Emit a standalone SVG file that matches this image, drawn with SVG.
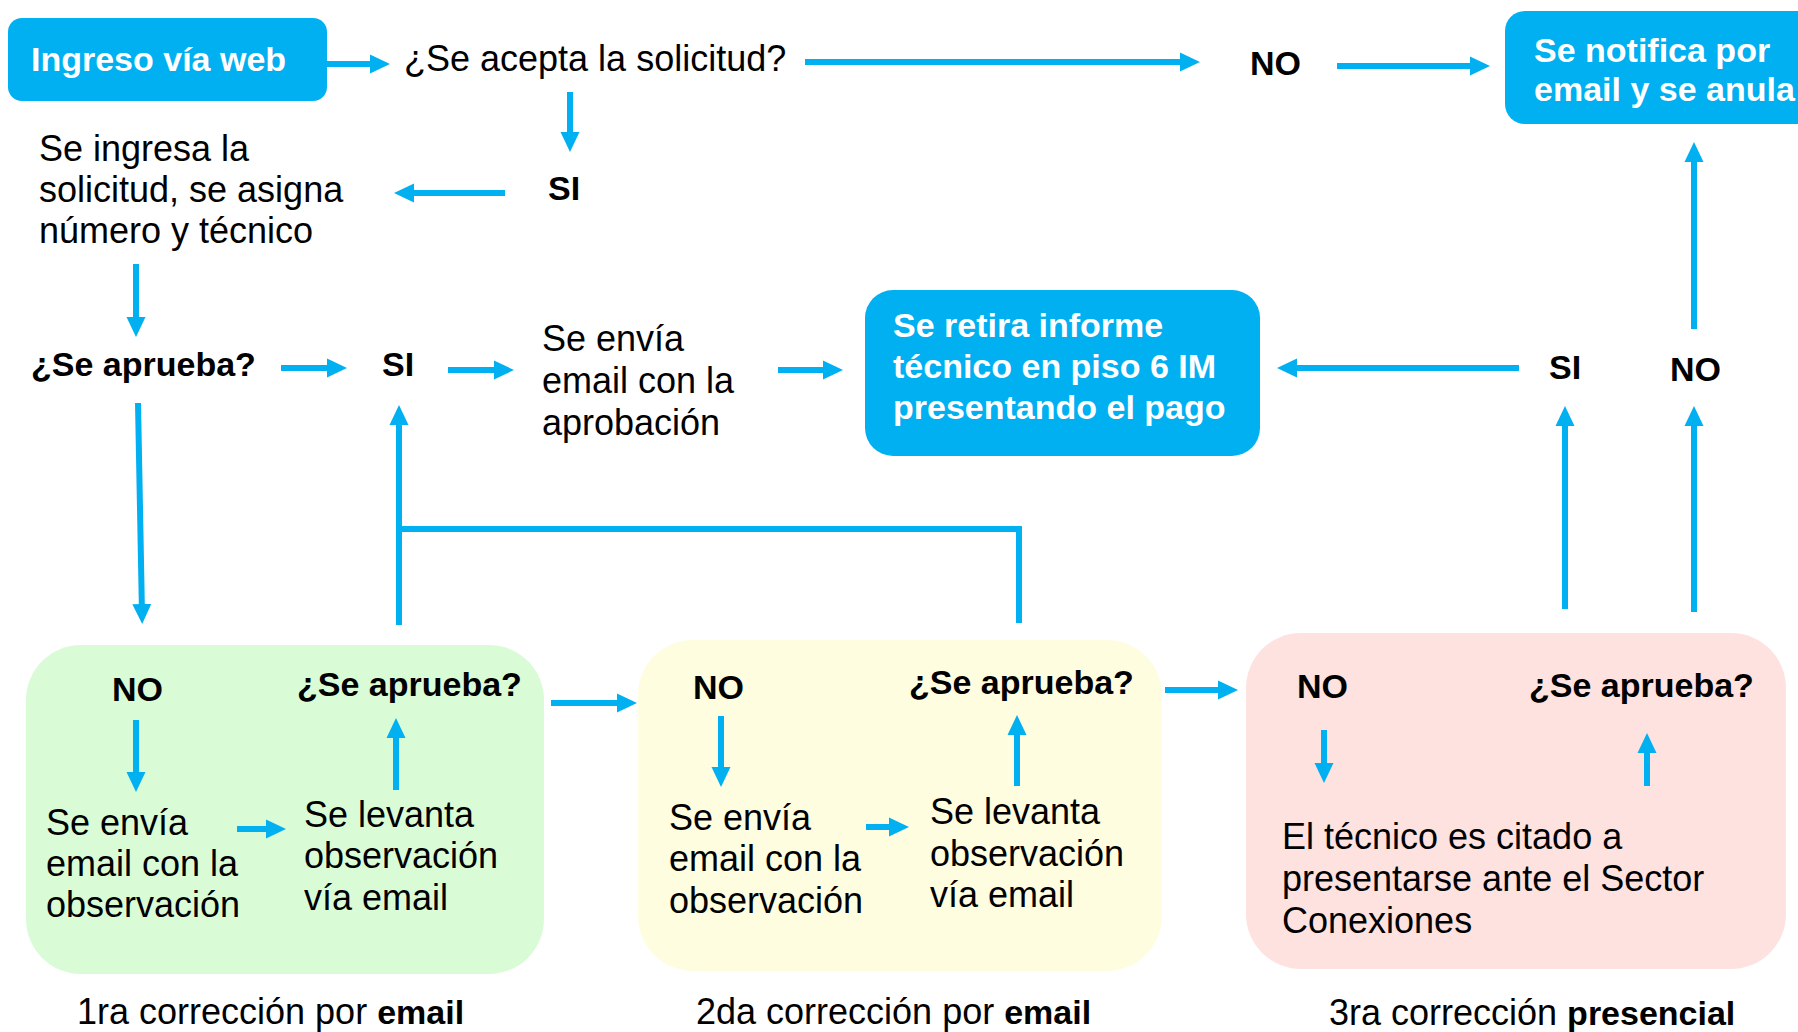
<svg xmlns="http://www.w3.org/2000/svg" width="1798" height="1032" viewBox="0 0 1798 1032">
<style>
text{font-family:"Liberation Sans",Arial,sans-serif;font-size:36px;fill:#000}
.b{font-weight:bold;font-size:34px}
.w{fill:#fff;font-weight:bold;font-size:34px}
.box{fill:#00B0F0}
.c line,.c polyline{stroke:#00B0F0;stroke-width:6;fill:none}
.c line{marker-end:url(#ah)}
</style>
<defs>
<marker id="ah" viewBox="0 0 20 20" markerWidth="20" markerHeight="20" refX="10" refY="10" orient="auto" markerUnits="userSpaceOnUse">
<path d="M0,0.5 L20,10 L0,19.5 z" fill="#00B0F0"/>
</marker>
</defs>
<rect width="1798" height="1032" fill="#fff"/>

<g id="group-green"><rect x="26" y="645" width="518" height="329" rx="55" fill="#D9FCD7"/></g>
<g id="group-yellow"><rect x="638" y="640" width="524" height="331" rx="55" fill="#FEFDE0"/></g>
<g id="group-pink"><rect x="1246" y="633" width="540" height="336" rx="55" fill="#FDE2E0"/></g>

<g id="n-ingreso"><rect class="box" x="8" y="18" width="319" height="83" rx="14"/><text class="w" x="31" y="71">Ingreso vía web</text></g>
<g id="n-acepta"><text x="404" y="71">¿Se acepta la solicitud?</text></g>
<g id="n-no-top"><text class="b" x="1250" y="75">NO</text></g>
<g id="n-notifica"><rect class="box" x="1505" y="11" width="330" height="113" rx="20"/><text class="w" x="1534" y="62">Se notifica por</text><text class="w" x="1534" y="101">email y se anula</text></g>
<g id="n-si-top"><text class="b" x="548" y="200">SI</text></g>
<g id="n-ingresa"><text x="39" y="161">Se ingresa la</text><text x="39" y="202">solicitud, se asigna</text><text x="39" y="243">número y técnico</text></g>
<g id="n-aprueba"><text class="b" x="31" y="376">¿Se aprueba?</text></g>
<g id="n-si-mid"><text class="b" x="382" y="376">SI</text></g>
<g id="n-envia-aprob"><text x="542" y="351">Se envía</text><text x="542" y="393">email con la</text><text x="542" y="435">aprobación</text></g>
<g id="n-retira"><rect class="box" x="865" y="290" width="395" height="166" rx="28"/><text class="w" x="893" y="337">Se retira informe</text><text class="w" x="893" y="378">técnico en piso 6 IM</text><text class="w" x="893" y="419">presentando el pago</text></g>
<g id="n-si-right"><text class="b" x="1549" y="379">SI</text></g>
<g id="n-no-right"><text class="b" x="1670" y="381">NO</text></g>

<g id="n-g-no"><text class="b" x="112" y="701">NO</text></g>
<g id="n-g-envia"><text x="46" y="835">Se envía</text><text x="46" y="876">email con la</text><text x="46" y="917">observación</text></g>
<g id="n-g-levanta"><text x="304" y="827">Se levanta</text><text x="304" y="868">observación</text><text x="304" y="910">vía email</text></g>
<g id="n-g-aprueba"><text class="b" x="297" y="696">¿Se aprueba?</text></g>

<g id="n-y-no"><text class="b" x="693" y="699">NO</text></g>
<g id="n-y-envia"><text x="669" y="830">Se envía</text><text x="669" y="871">email con la</text><text x="669" y="913">observación</text></g>
<g id="n-y-levanta"><text x="930" y="824">Se levanta</text><text x="930" y="866">observación</text><text x="930" y="907">vía email</text></g>
<g id="n-y-aprueba"><text class="b" x="909" y="694">¿Se aprueba?</text></g>

<g id="n-p-no"><text class="b" x="1297" y="698">NO</text></g>
<g id="n-p-citado"><text x="1282" y="849">El técnico es citado a</text><text x="1282" y="891">presentarse ante el Sector</text><text x="1282" y="933">Conexiones</text></g>
<g id="n-p-aprueba"><text class="b" x="1529" y="697">¿Se aprueba?</text></g>

<g id="cap1"><text x="77" y="1024">1ra corrección por <tspan font-weight="bold" font-size="34">email</tspan></text></g>
<g id="cap2"><text x="696" y="1024">2da corrección por <tspan font-weight="bold" font-size="34">email</tspan></text></g>
<g id="cap3"><text x="1329" y="1025">3ra corrección <tspan font-weight="bold" font-size="34">presencial</tspan></text></g>

<g id="connectors" class="c">
<line x1="327" y1="64" x2="380" y2="64"/>
<line x1="805" y1="62" x2="1190" y2="62"/>
<line x1="1337" y1="66" x2="1480" y2="66"/>
<line x1="570" y1="92" x2="570" y2="142"/>
<line x1="505" y1="193" x2="404" y2="193"/>
<line x1="136" y1="264" x2="136" y2="327"/>
<line x1="281" y1="368" x2="337" y2="368"/>
<line x1="448" y1="370" x2="504" y2="370"/>
<line x1="778" y1="370" x2="833" y2="370"/>
<line x1="1519" y1="368" x2="1287" y2="368"/>
<line x1="1694" y1="329" x2="1694" y2="152"/>
<line x1="138" y1="403" x2="142" y2="614"/>
<line x1="399" y1="625" x2="399" y2="415"/>
<polyline points="1019,623 1019,529 399,529"/>
<line x1="1565" y1="609" x2="1565" y2="416"/>
<line x1="1694" y1="612" x2="1694" y2="416"/>
<line x1="136" y1="720" x2="136" y2="782"/>
<line x1="237" y1="829" x2="276" y2="829"/>
<line x1="396" y1="790" x2="396" y2="728"/>
<line x1="551" y1="703" x2="627" y2="703"/>
<line x1="721" y1="716" x2="721" y2="777"/>
<line x1="866" y1="827" x2="899" y2="827"/>
<line x1="1017" y1="786" x2="1017" y2="725"/>
<line x1="1165" y1="690" x2="1228" y2="690"/>
<line x1="1324" y1="730" x2="1324" y2="773"/>
<line x1="1647" y1="786" x2="1647" y2="743"/>
</g>
</svg>
